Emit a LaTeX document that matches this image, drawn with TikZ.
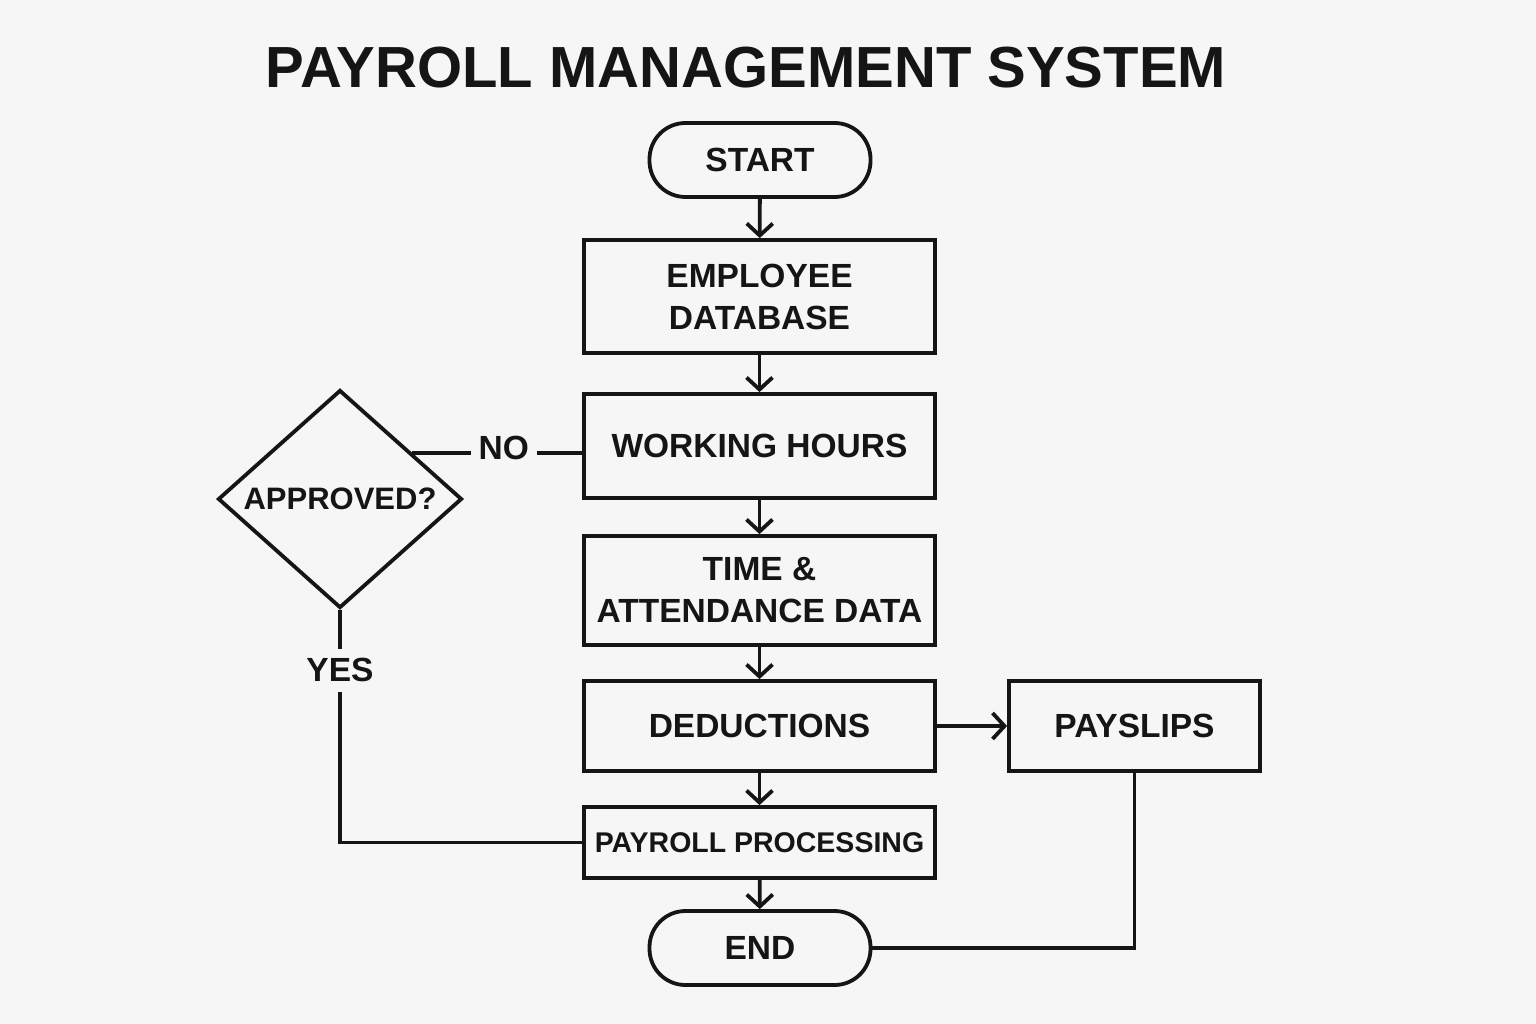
\documentclass[tikz,border=0pt]{standalone}
\usepackage{fontspec}
\setmainfont{Liberation Sans}
\usepackage{xcolor}
\usetikzlibrary{arrows.meta,positioning,calc,shapes.geometric}
\definecolor{bg}{HTML}{F6F6F6}
\definecolor{ink}{HTML}{151515}

\begin{document}
\begin{tikzpicture}[
  x=1pt,y=-1pt,text=ink,
  font=\fontsize{33.5}{42}\selectfont\bfseries,
  b/.style={rectangle,draw=ink,line width=3.8pt,minimum width=351pt,align=center,inner sep=0pt},
  term/.style={b,rounded corners=36pt,minimum width=221pt,minimum height=74pt},
  dec/.style={diamond,draw=ink,line width=3.8pt,aspect=1.12,minimum width=244pt,minimum height=218pt,inner sep=0pt},
  lbl/.style={fill=bg,inner xsep=8pt,inner ysep=10pt},
  ln/.style={draw=ink,line width=3.8pt},
  ar/.style={ln,-{Straight Barb[length=12pt,width=26pt]}}
]
\fill[bg] (0,0) rectangle (1536,1024);
\useasboundingbox (0,0) rectangle (1536,1024);
\node[font=\fontsize{58}{68}\selectfont\bfseries] (title) at (746,68) {PAYROLL MANAGEMENT SYSTEM};
\node[term] (start) at (760,160) {START};
\node[b,minimum height=113pt] (emp) at (759.5,296.5) {EMPLOYEE\\DATABASE};
\node[b,minimum height=104pt] (hours) at (759.5,446) {WORKING HOURS};
\node[b,minimum height=109pt] (time) at (759.5,590.5) {TIME \&\\ATTENDANCE DATA};
\node[b,minimum height=90pt] (ded) at (759.5,726) {DEDUCTIONS};
\node[b,minimum height=71pt,font=\fontsize{28.5}{34}\selectfont\bfseries] (proc) at (759.5,842.5) {PAYROLL PROCESSING};
\node[term] (end) at (760,948) {END};
\node[b,minimum width=251pt,minimum height=90pt] (pay) at (1134.5,726) {PAYSLIPS};
\node[dec,font=\fontsize{31}{38}\selectfont\bfseries] (appr) at (340,499) {APPROVED?};
\draw[ar] (start) -- (emp);
\draw[ar] (emp) -- (hours);
\draw[ar] (hours) -- (time);
\draw[ar] (time) -- (ded);
\draw[ar] (ded) -- (proc);
\draw[ar] (proc) -- (end);
\draw[ar] (ded) -- (pay);
% decision branches
\coordinate (nopt) at ($(hours.west)+(0,7)$);
\draw[ln] (nopt) -- node[lbl,pos=0.46,yshift=5pt]{NO} (nopt -| appr.33);
\draw[ln] (appr.south) |- node[lbl,pos=0.13]{YES} (proc.west);
\draw[ln] (pay.south) |- (end.east);
\end{tikzpicture}
\end{document}
